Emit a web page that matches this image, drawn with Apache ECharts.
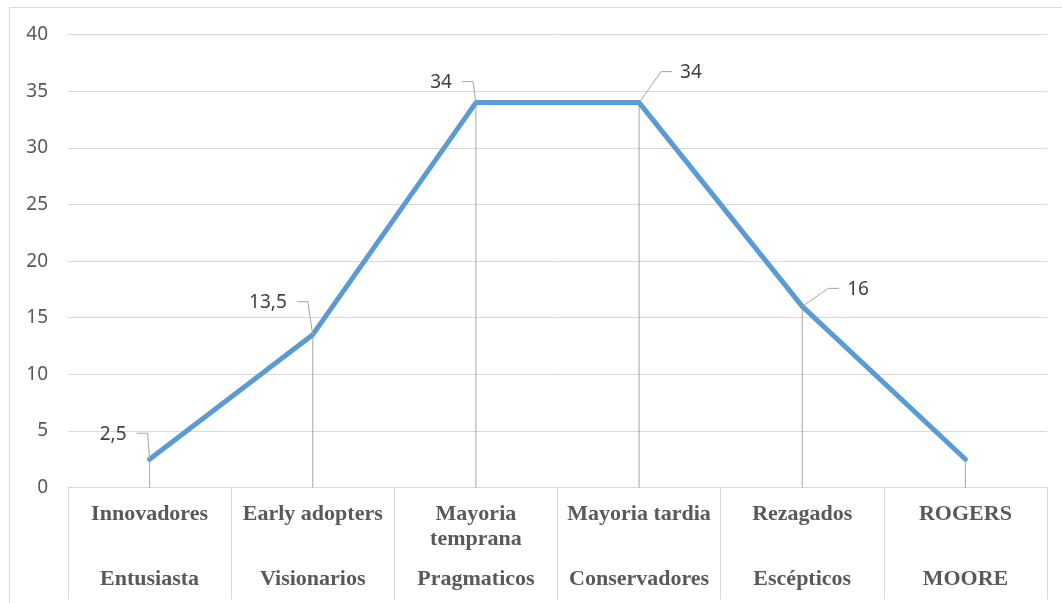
<!DOCTYPE html>
<html>
<head>
<meta charset="utf-8">
<script src="https://cdn.jsdelivr.net/npm/echarts@6/dist/echarts.min.js"></script>
<style>
html,body{margin:0;padding:0;background:#fff;}
#chart{width:1062px;height:603px;}
</style>
</head>
<body>
<div id="chart"></div>
<script>
// Data
const rogers = ['Innovadores', 'Early adopters', 'Mayoria\ntemprana', 'Mayoria tardia', 'Rezagados', 'ROGERS'];
const moore = ['Entusiasta', 'Visionarios', 'Pragmaticos', 'Conservadores', 'Escépticos', 'MOORE'];
const values = [2.5, 13.5, 34, 34, 16, 2.5];
const valueLabels = ['2,5', '13,5', '34', '34', '16', null];
const yTicks = [0, 5, 10, 15, 20, 25, 30, 35, 40];

// Label placement (style only): [offsetX of text edge, offsetY, side]
const labelPlacement = [[-23, -25, 'left'], [-26, -32, 'left'], [-24, -20, 'left'], [41, -30, 'right'], [45, -17, 'right'], null];

const categories = rogers.map((r, i) => i);

const chart = echarts.init(document.getElementById('chart'), null, {renderer: 'canvas'});

function fmtLabel(idx) {
  const top = rogers[idx].split('\n');
  let s = '{a|' + top[0] + '}\n';
  s += '{a|' + (top[1] ? top[1] : ' ') + '}\n';
  s += '{c|' + moore[idx] + '}';
  return s;
}

const option = {
  animation: false,
  backgroundColor: '#ffffff',
  graphic: [{
    type: 'rect',
    shape: {x: 9.5, y: 7.5, width: 1200, height: 800},
    style: {fill: 'none', stroke: '#d9d9d9', lineWidth: 1},
    silent: true,
    z: -10
  }],
  grid: {left: 68, right: 15, top: 34.7, bottom: 115.5, containLabel: false},
  xAxis: {
    type: 'category',
    data: categories,
    boundaryGap: true,
    axisLine: {show: true, lineStyle: {color: '#d9d9d9', width: 1}},
    axisTick: {show: true, interval: 0, length: 112, lineStyle: {color: '#d9d9d9', width: 1}},
    axisLabel: {
      interval: 0,
      margin: 14,
      formatter: function (v, idx) { return fmtLabel(idx); },
      rich: {
        a: {fontFamily: 'Liberation Serif', fontWeight: 'bold', fontSize: 22, color: '#595959', lineHeight: 25, align: 'center'},
        c: {fontFamily: 'Liberation Serif', fontWeight: 'bold', fontSize: 22, color: '#595959', lineHeight: 55, align: 'center'}
      }
    },
    splitLine: {show: false}
  },
  yAxis: {
    type: 'value',
    min: yTicks[0],
    max: yTicks[yTicks.length - 1],
    interval: yTicks[1] - yTicks[0],
    axisLine: {show: false},
    axisTick: {show: false},
    axisLabel: {margin: 20, fontFamily: 'Noto Sans', fontSize: 19, color: '#595959'},
    splitLine: {show: true, lineStyle: {color: '#d9d9d9', width: 1}}
  },
  series: [
    {
      type: 'bar',
      data: values,
      barWidth: 1,
      itemStyle: {color: '#a6a6a6'},
      silent: true,
      z: 1
    },
    {
      type: 'line',
      data: values,
      symbol: 'none',
      lineStyle: {color: '#5b9bd5', width: 5, cap: 'round', join: 'round'},
      z: 3
    },
    {
      type: 'custom',
      data: values.map((v, i) => [i, v]),
      encode: {x: 0, y: 1},
      z: 4,
      silent: true,
      renderItem: function (params, api) {
        const idx = params.dataIndex;
        const place = labelPlacement[idx];
        const text = valueLabels[idx];
        if (!place || text == null) return null;
        const pt = api.coord([api.value(0), api.value(1)]);
        const ex = pt[0] + place[0];
        const y = pt[1] + place[1];
        let pts;
        if (place[2] === 'left') {
          pts = [[ex + 10, y - 1], [ex + 21, y - 1], [pt[0], pt[1]]];
        } else {
          pts = [[ex - 8, y - 1], [ex - 19, y - 1], [pt[0], pt[1]]];
        }
        return {
          type: 'group',
          children: [
            {
              type: 'polyline',
              shape: {points: pts},
              style: {stroke: '#a6a6a6', lineWidth: 1, fill: null}
            },
            {
              type: 'text',
              style: {
                x: ex, y: y,
                text: text,
                fontFamily: 'Noto Sans',
                fontSize: 19,
                fill: '#404040',
                align: place[2] === 'left' ? 'right' : 'left',
                verticalAlign: 'middle'
              }
            }
          ]
        };
      }
    }
  ]
};
chart.setOption(option);
</script>
</body>
</html>
